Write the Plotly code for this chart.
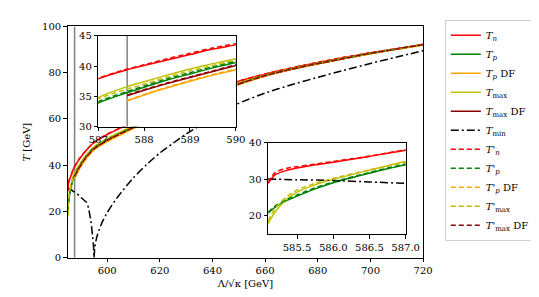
import plotly.graph_objects as go

# ---------------- data ----------------
LAM = [585.1, 585.2, 585.35, 585.5, 585.75, 586.0, 586.5, 587.0, 587.63, 588.0,
       588.5, 589.0, 589.5, 590.0, 592.0, 595.0, 600.0, 606.0, 613.0, 620.0,
       630.0, 640.0, 649.0, 660.0, 670.0, 680.0, 690.0, 700.0, 710.0, 720.0]

T_n = [28.8, 31.2, 32.3, 33.0, 33.9, 34.6, 36.2, 37.9, 39.4, 40.1,
       41.0, 41.9, 42.8, 43.5, 46.4, 49.8, 53.3, 56.6, 60.2, 63.4,
       67.8, 72.0, 76.0, 79.4, 82.0, 84.4, 86.6, 88.6, 90.4, 92.2]
T_p = [20.7, 22.3, 24.0, 25.3, 27.3, 29.0, 31.6, 33.9, 35.6, 36.5,
       37.7, 38.7, 39.7, 40.6, 43.8, 47.5, 51.0, 54.4, 58.2, 61.6,
       66.3, 70.8, 74.9, 78.8, 81.6, 84.0, 86.2, 88.3, 90.2, 92.1]
T_p_DF = [None, None, None, None, None, None, None, None, 34.2, 35.2,
          36.4, 37.5, 38.5, 39.4, 42.8, 46.6, 50.2, 53.7, 57.5, 61.0,
          65.7, 70.3, 74.5, 78.5, 81.4, 83.8, 86.0, 88.2, 90.1, 92.0]
T_max = [17.8, 21.0, 24.3, 26.4, 28.4, 29.9, 32.4, 34.8, 36.6, 37.4,
         38.5, 39.5, 40.4, 41.2, 44.3, 48.0, 51.5, 54.9, 58.6, 62.0,
         66.6, 71.1, 75.1, 79.0, 81.7, 84.1, 86.3, 88.4, 90.3, 92.1]
T_max_DF = [None, None, None, None, None, None, None, None, 35.1, 36.0,
            37.1, 38.1, 39.1, 40.1, 43.4, 47.1, 50.7, 54.1, 57.9, 61.3,
            66.0, 70.6, 74.7, 78.7, 81.5, 83.9, 86.1, 88.3, 90.2, 92.1]

T_n_pr = [29.0, 31.8, 32.9, 33.4, 34.1, 34.8, 36.3, 38.0, 39.5, 40.2,
          41.2, 42.1, 43.0, 43.7, 46.5, 49.9, 53.4, 56.7, 60.3, 63.5,
          67.9, 72.1, 76.1, 79.5, 82.1, 84.5, 86.7, 88.6, 90.4, 92.3]
T_p_pr = [20.9, 22.6, 24.3, 25.6, 27.6, 29.2, 31.8, 34.1, 35.8, 36.7,
          37.9, 38.9, 39.9, 40.8, 44.0, 47.6, 51.1, 54.5, 58.3, 61.7,
          66.4, 70.9, 75.0, 78.9, 81.7, 84.1, 86.3, 88.4, 90.3, 92.2]
T_p_DF_pr = [None, None, None, None, None, None, None, None, 34.3, 35.3,
             36.5, 37.6, 38.6, 39.5, 42.9, 46.7, 50.3, 53.8, 57.6, 61.1,
             65.8, 70.4, 74.6, 78.6, 81.5, 83.9, 86.1, 88.2, 90.1, 92.0]
T_max_pr = [18.5, 22.0, 25.0, 27.0, 28.8, 30.2, 32.5, 34.6, 36.2, 37.0,
            38.2, 39.2, 40.1, 41.0, 44.1, 47.9, 51.5, 54.9, 58.6, 62.0,
            66.6, 71.1, 75.2, 79.0, 81.8, 84.2, 86.4, 88.5, 90.4, 92.2]
T_max_DF_pr = [None, None, None, None, None, None, None, None, 35.2, 36.1,
               37.2, 38.2, 39.2, 40.2, 43.5, 47.2, 50.8, 54.2, 58.0, 61.4,
               66.1, 70.7, 74.8, 78.8, 81.6, 84.0, 86.2, 88.4, 90.3, 92.2]

LAM_MIN = [585.1, 585.5, 586.0, 586.5, 587.0, 587.63, 588.5, 589.5, 590.5, 591.5,
           592.3, 593.0, 593.8, 594.4, 594.8, 595.0, 595.3, 596.0, 597.0, 598.0,
           600.0, 603.0, 606.0, 610.0, 615.0, 620.0, 625.0, 630.0, 640.0, 649.0,
           660.0, 670.0, 680.0, 690.0, 700.0, 710.0, 720.0]
T_min = [30.0, 29.8, 29.6, 29.2, 28.8, 28.4, 27.7, 26.7, 25.6, 24.6,
         23.8, 21.0, 16.0, 10.0, 5.0, 0.0, 4.5, 8.7, 12.3, 15.1,
         19.5, 24.8, 29.2, 34.6, 40.3, 45.3, 49.5, 53.5, 60.5, 66.3,
         71.2, 74.8, 78.0, 81.1, 84.0, 86.8, 89.5]

LAM_STAR = 587.63

# ---------------- styles ----------------
FONT = "DejaVu Serif"
DASH = "5px,3px"
DASHDOT = "8px,3px,2px,3px"

series = [
    ("<i>T<sub>n</sub></i>", T_n, "#ff0000", "solid"),
    ("<i>T<sub>p</sub></i>", T_p, "#008000", "solid"),
    ("<i>T<sub>p</sub></i> DF", T_p_DF, "#ffa500", "solid"),
    ("<i>T</i><sub>max</sub>", T_max, "#bfbf00", "solid"),
    ("<i>T</i><sub>max</sub> DF", T_max_DF, "#8b0000", "solid"),
    ("<i>T</i><sub>min</sub>", None, "#000000", DASHDOT),
    ("<i>T'<sub>n</sub></i>", T_n_pr, "#ff0000", DASH),
    ("<i>T'<sub>p</sub></i>", T_p_pr, "#008000", DASH),
    ("<i>T'<sub>p</sub></i> DF", T_p_DF_pr, "#ffa500", DASH),
    ("<i>T'</i><sub>max</sub>", T_max_pr, "#bfbf00", DASH),
    ("<i>T'</i><sub>max</sub> DF", T_max_DF_pr, "#8b0000", DASH),
]

fig = go.Figure()

axes = [("x", "y"), ("x2", "y2"), ("x3", "y3")]

# vertical reference line
for i, (xa, ya) in enumerate(axes[:2]):
    fig.add_trace(go.Scatter(x=[LAM_STAR, LAM_STAR], y=[0, 100], mode="lines",
                             line=dict(color="#808080", width=1.5),
                             showlegend=False, hoverinfo="skip", xaxis=xa, yaxis=ya))

for k, (xa, ya) in enumerate(axes):
    for name, vals, color, dash in series:
        if vals is None:
            xs, ys = LAM_MIN, T_min
        else:
            xs, ys = LAM, vals
        fig.add_trace(go.Scatter(
            x=xs, y=ys, mode="lines", name=name,
            line=dict(color=color, width=1.5, dash=dash, shape="spline", smoothing=0.6),
            showlegend=(k == 0), legendgroup=name,
            xaxis=xa, yaxis=ya, connectgaps=False))

W, H = 539, 297

def dom_x(a, b):
    return [a / W, b / W]

def dom_y(top, bottom):
    return [(H - bottom) / H, (H - top) / H]

axcommon = dict(showline=True, linecolor="black", linewidth=1, mirror=True,
                ticks="outside", ticklen=3.5, tickwidth=1, tickcolor="black",
                showgrid=False, zeroline=False,
                tickfont=dict(family=FONT, size=10, color="black"))

fig.update_layout(
    width=W, height=H,
    margin=dict(l=0, r=0, t=0, b=0),
    paper_bgcolor="white", plot_bgcolor="white",
    font=dict(family=FONT, size=10, color="black"),
    xaxis=dict(domain=dom_x(52, 424), range=[585.0, 720], tickvals=[600, 620, 640, 660, 680, 700, 720],
               title=dict(text="Λ/√κ [GeV]", font=dict(family=FONT, size=10), standoff=4), **axcommon),
    yaxis=dict(domain=dom_y(13, 254), range=[0, 100], tickvals=[0, 20, 40, 60, 80, 100],
               title=dict(text="<i>T</i> [GeV]", font=dict(family=FONT, size=10), standoff=9), **axcommon),
    xaxis2=dict(domain=dom_x(84, 228), range=[587, 590], tickvals=[587, 588, 589, 590],
                anchor="y2", **axcommon),
    yaxis2=dict(domain=dom_y(22.7, 117.3), range=[30, 45], tickvals=[30, 35, 40, 45],
                anchor="x2", **axcommon),
    xaxis3=dict(domain=dom_x(261.7, 405.7), range=[585.1, 587.0],
                tickvals=[585.5, 586.0, 586.5, 587.0], tickformat=".1f",
                anchor="y3", **axcommon),
    yaxis3=dict(domain=dom_y(134, 229.3), range=[14.9, 40], tickvals=[20, 30, 40],
                anchor="x3", **axcommon),
    legend=dict(x=446.7 / W, y=1 - 6 / H, xanchor="left", yanchor="top",
                bordercolor="#d0d0d0", borderwidth=1, bgcolor="white",
                font=dict(family=FONT, size=10, color="black"),
                tracegroupgap=0, itemwidth=30),
    showlegend=True,
)

fig.write_html("out.html")
